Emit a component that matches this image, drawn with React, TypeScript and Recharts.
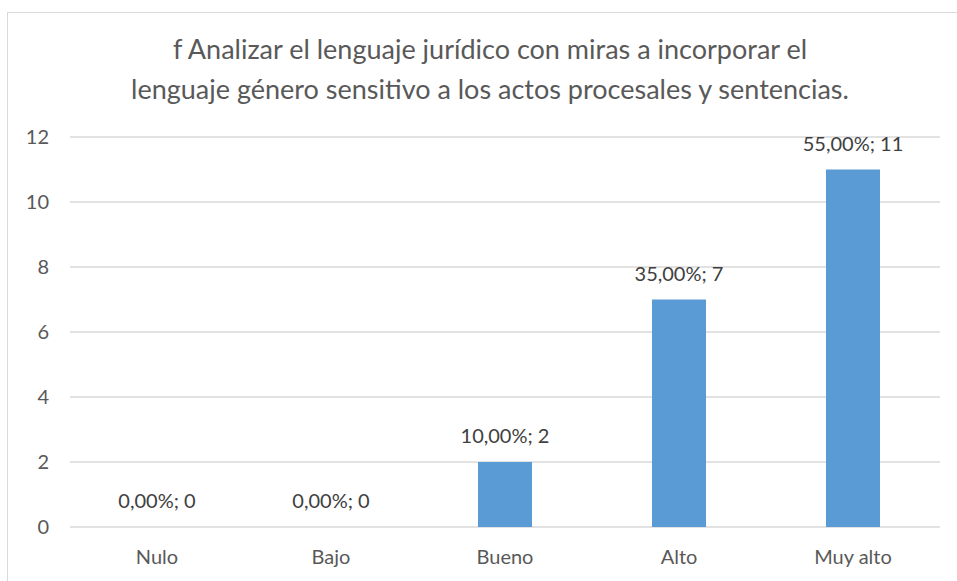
import { Bar, CartesianGrid, ComposedChart, LabelList, Line, XAxis, YAxis } from "recharts";

const categories = ["Nulo", "Bajo", "Bueno", "Alto", "Muy alto"];
const counts = [0, 0, 2, 7, 11];
const percents = [0, 0, 10, 35, 55];
const yTicks = [0, 2, 4, 6, 8, 10, 12];

const TITLE_1 = "f Analizar el lenguaje jurídico con miras a incorporar el";
const TITLE_2 = "lenguaje género sensitivo a los actos procesales y sentencias.";

const FONT = "Lato, 'Open Sans', sans-serif";

const data = categories.map((name, i) => ({
  name,
  count: counts[i],
  label: `${percents[i].toFixed(2).replace(".", ",")}%; ${counts[i]}`,
}));

// labels hang off an invisible line so the zero-height bars get one too
function renderLabel(props: any) {
  const { x, y, value } = props;
  return (
    <text
      x={Number(x)}
      y={Number(y) - 19}
      textAnchor="middle"
      fontSize={20}
      fill="#404040"
      fontFamily={FONT}
    >
      {value}
    </text>
  );
}

export default function App() {
  return (
    <div
      style={{
        position: "absolute",
        left: 0,
        top: 0,
        width: 957,
        height: 581,
        overflow: "hidden",
        background: "#fff",
        fontFamily: FONT,
      }}
    >
      <div
        style={{
          position: "absolute",
          left: 7,
          top: 12,
          width: 970,
          height: 600,
          border: "1px solid #d9d9d9",
          boxSizing: "border-box",
        }}
      />
      <div
        style={{
          position: "absolute",
          left: 0,
          top: 29,
          width: 980,
          textAlign: "center",
          fontSize: 27,
          lineHeight: "40px",
          color: "#595959",
        }}
      >
        <div>{TITLE_1}</div>
        <div>{TITLE_2}</div>
      </div>
      <div style={{ position: "absolute", left: 0, top: 0 }}>
        <ComposedChart
          width={957}
          height={581}
          data={data}
          margin={{ top: 137, right: 17, bottom: 14, left: 20 }}
        >
          <CartesianGrid vertical={false} stroke="#d9d9d9" strokeWidth={1.5} />
          <XAxis
            dataKey="name"
            axisLine={false}
            tickLine={false}
            tickMargin={17}
            height={40}
            tick={{ fontSize: 20, fill: "#595959", fontFamily: FONT }}
          />
          <YAxis
            width={50}
            domain={[0, 12]}
            ticks={yTicks}
            axisLine={false}
            tickLine={false}
            tickMargin={15}
            tick={{ fontSize: 20, fill: "#595959", fontFamily: FONT }}
          />
          <Bar dataKey="count" fill="#5b9bd5" barSize={54} isAnimationActive={false} />
          <Line
            dataKey="count"
            stroke="none"
            dot={false}
            activeDot={false}
            legendType="none"
            isAnimationActive={false}
          >
            <LabelList dataKey="label" content={renderLabel} />
          </Line>
        </ComposedChart>
      </div>
    </div>
  );
}
